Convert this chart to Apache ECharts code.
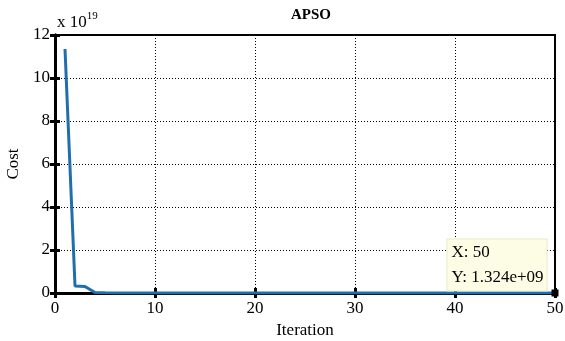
<!DOCTYPE html>
<html>
<head>
<meta charset="utf-8">
<script src="https://cdn.jsdelivr.net/npm/echarts@6/dist/echarts.min.js"></script>
<style>
  html, body { margin: 0; padding: 0; background: #fff; }
  #main { width: 565px; height: 341px; }
</style>
</head>
<body>
<div id="main"></div>
<script>
// cost values in units of 1e19, iteration 1..50
let iterations = []
for (let i = 1; i <= 50; i++) iterations.push(i)
let costValues = [
    11.35, 0.33, 0.30, 0.02, 0.01, 0.005, 0.003, 0.002, 0.001, 0.001,
    0.001, 0.0005, 0.0005, 0.0003, 0.0003, 0.0002, 0.0002, 0.0001, 0.0001, 0.0001,
    0.0001, 0.0001, 0.0001, 0.0001, 0.0001, 0.00005, 0.00005, 0.00005, 0.00005, 0.00005,
    0.00005, 0.00005, 0.00005, 0.00005, 0.00005, 0.00002, 0.00002, 0.00002, 0.00002, 0.00002,
    0.00002, 0.00002, 0.00002, 0.00002, 0.00002, 0.00001, 0.00001, 0.00001, 0.00001, 1.324e-10
]
let xTicks = [0, 10, 20, 30, 40, 50]
let yTicks = [0, 2, 4, 6, 8, 10, 12]
let tipText = ['X: 50', 'Y: 1.324e+09']

let font = 'Liberation Serif'
let chart = echarts.init(document.getElementById('main'))

let points = iterations.map((x, i) => [x, costValues[i]])
let last = points.length - 1
points[last] = {
    value: points[last],
    symbol: 'rect',
    symbolSize: 7,
    itemStyle: {color: '#000'},
    label: {
        show: true,
        position: [-104, -50],
        formatter: tipText.join('\n'),
        backgroundColor: '#fdfde6',
        borderColor: '#e8e8c8',
        borderWidth: 1,
        padding: [1, 3, 0, 4],
        fontFamily: font,
        fontSize: 17,
        lineHeight: 25,
        color: '#000'
    }
}

let gridLine = {show: true, lineStyle: {color: '#000', type: [1, 2], width: 1}}
let option = {
    animation: false,
    title: [
        {
            text: 'APSO',
            left: 306,
            top: 3,
            textAlign: 'center',
            textStyle: {fontFamily: font, fontWeight: 'bold', fontSize: 15, color: '#000'}
        },
        {
            text: 'x 10{sup|19}',
            left: 52,
            top: 6,
            textStyle: {
                fontFamily: font, fontWeight: 'normal', fontSize: 17, color: '#000',
                rich: {sup: {fontFamily: font, fontSize: 11, verticalAlign: 'top', padding: [0, 0, 12, 0]}}
            }
        }
    ],
    grid: {left: 55, right: 10, top: 35, bottom: 48, show: true, borderColor: '#000', borderWidth: 2,
        containLabel: false, outerBoundsMode: 'none'},
    xAxis: [
        {
            type: 'value', min: 0, max: 50, interval: 10,
            name: 'Iteration', nameLocation: 'middle', nameGap: 27,
            nameTextStyle: {fontFamily: font, fontSize: 17, color: '#000'},
            axisLine: {show: true, lineStyle: {color: '#000', width: 3}},
            axisTick: {inside: true, length: 5, lineStyle: {color: '#000', width: 3}},
            axisLabel: {fontFamily: font, fontSize: 17, color: '#000', margin: 7,
                formatter: v => xTicks.includes(v) ? String(v) : ''},
            splitLine: gridLine
        },
        {
            type: 'value', min: 0, max: 50, interval: 10, position: 'top',
            axisLine: {show: true, lineStyle: {color: '#000', width: 3}},
            axisTick: {inside: true, length: 5, lineStyle: {color: '#000', width: 3}},
            axisLabel: {show: false}, splitLine: {show: false}
        }
    ],
    yAxis: [
        {
            type: 'value', min: 0, max: 12, interval: 2,
            name: 'Cost', nameLocation: 'middle', nameGap: 28,
            nameTextStyle: {fontFamily: font, fontSize: 17, color: '#000'},
            axisLine: {show: true, lineStyle: {color: '#000', width: 3}},
            axisTick: {show: true, inside: true, length: 5, lineStyle: {color: '#000', width: 3}},
            axisLabel: {fontFamily: font, fontSize: 17, color: '#000', margin: 5,
                formatter: v => yTicks.includes(v) ? String(v) : ''},
            splitLine: gridLine
        },
        {
            type: 'value', min: 0, max: 12, interval: 2, position: 'right',
            axisLine: {show: true, lineStyle: {color: '#000', width: 3}},
            axisTick: {show: true, inside: true, length: 5, lineStyle: {color: '#000', width: 3}},
            axisLabel: {show: false}, splitLine: {show: false}
        }
    ],
    series: [
        {
            type: 'line',
            data: points,
            showSymbol: true,
            symbol: 'none',
            lineStyle: {color: '#1f6fae', width: 3},
            itemStyle: {color: '#1f6fae'},
            z: 5
        }
    ]
}
chart.setOption(option)
</script>
</body>
</html>
